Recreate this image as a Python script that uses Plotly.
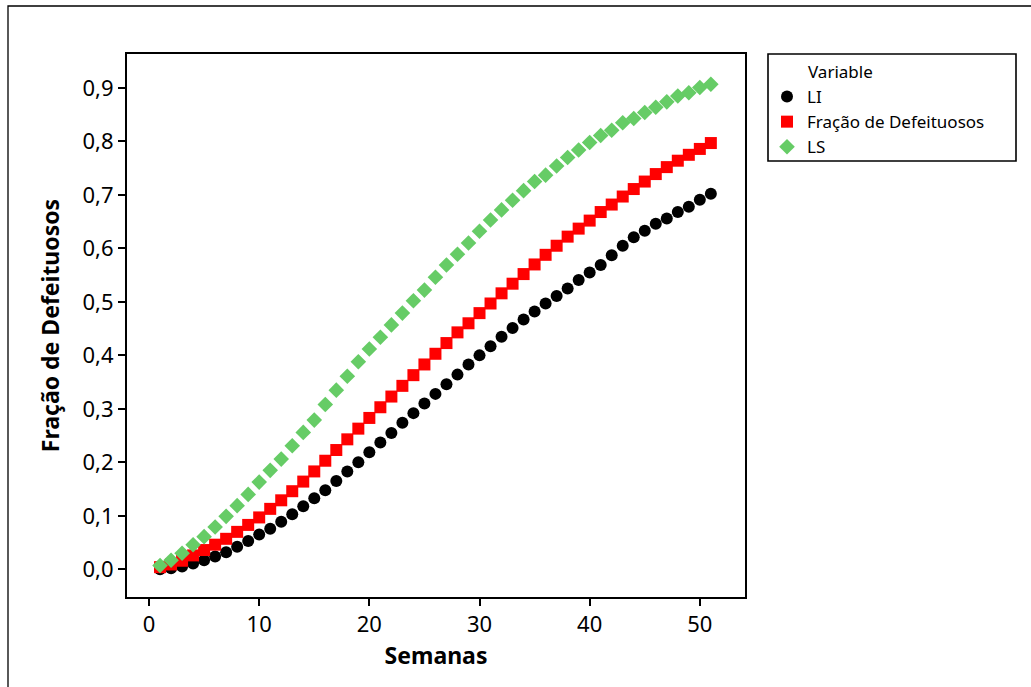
import plotly.graph_objects as go

semanas = list(range(1, 52))

li = [0.000, 0.002, 0.005, 0.011, 0.017, 0.024, 0.032, 0.042, 0.053, 0.065,
      0.076, 0.089, 0.103, 0.118, 0.133, 0.148, 0.165, 0.183, 0.200, 0.219,
      0.237, 0.255, 0.274, 0.292, 0.310, 0.328, 0.346, 0.364, 0.383, 0.400,
      0.417, 0.435, 0.451, 0.467, 0.482, 0.497, 0.511, 0.525, 0.541, 0.555,
      0.569, 0.587, 0.605, 0.621, 0.633, 0.646, 0.656, 0.668, 0.678, 0.691,
      0.702]

fracao = [0.004, 0.009, 0.016, 0.026, 0.036, 0.046, 0.057, 0.070, 0.083, 0.097,
          0.113, 0.129, 0.146, 0.164, 0.183, 0.203, 0.223, 0.243, 0.263, 0.283,
          0.303, 0.323, 0.343, 0.363, 0.383, 0.403, 0.423, 0.443, 0.460, 0.479,
          0.497, 0.516, 0.534, 0.552, 0.570, 0.588, 0.605, 0.622, 0.637, 0.652,
          0.668, 0.682, 0.697, 0.711, 0.725, 0.739, 0.752, 0.764, 0.775, 0.786,
          0.797]

ls = [0.007, 0.017, 0.030, 0.046, 0.061, 0.079, 0.099, 0.119, 0.140, 0.163,
      0.185, 0.206, 0.231, 0.256, 0.279, 0.308, 0.335, 0.361, 0.388, 0.412,
      0.434, 0.457, 0.479, 0.502, 0.522, 0.546, 0.569, 0.589, 0.610, 0.632,
      0.653, 0.672, 0.690, 0.708, 0.725, 0.737, 0.754, 0.770, 0.784, 0.798,
      0.811, 0.821, 0.835, 0.843, 0.854, 0.864, 0.874, 0.885, 0.891, 0.901,
      0.907]

x_ticks = [0, 10, 20, 30, 40, 50]
y_ticks = [0.0, 0.1, 0.2, 0.3, 0.4, 0.5, 0.6, 0.7, 0.8, 0.9]

FONT = "Noto Sans"

fig = go.Figure()
fig.add_trace(go.Scatter(x=semanas, y=li, mode="markers", name="LI",
                         legendgroup="a",
                         marker=dict(symbol="circle", size=12, color="#000000")))
fig.add_trace(go.Scatter(x=semanas, y=fracao, mode="markers", name="Fração de Defeituosos",
                         legendgroup="b",
                         marker=dict(symbol="square", size=12, color="#FF0000")))
fig.add_trace(go.Scatter(x=semanas, y=ls, mode="markers", name="LS",
                         legendgroup="c",
                         marker=dict(symbol="diamond", size=12, color="#66CC66")))

W, H = 1031, 687
L, R, T, B = 127, 745, 54, 597
pw, ph = R - L, B - T

def px(xp):
    return (xp - L) / pw

def py(yp):
    return (B - yp) / ph

fig.update_layout(
    width=W, height=H,
    margin=dict(l=L, r=W - R, t=T, b=H - B, pad=0),
    paper_bgcolor="white", plot_bgcolor="white",
    separators=",.",
    font=dict(family=FONT, color="black"),
    showlegend=True,
    legend=dict(x=px(767), y=py(79), xanchor="left", yanchor="top",
                bgcolor="rgba(0,0,0,0)", borderwidth=0,
                font=dict(family=FONT, size=17, color="black"),
                tracegroupgap=0),
    xaxis=dict(range=[-2.0, 54.1], tickvals=x_ticks, ticks="outside", ticklen=7,
               tickwidth=1.5, tickcolor="black", showgrid=False, zeroline=False,
               showline=True, linecolor="black", linewidth=2, mirror=True,
               tickfont=dict(family=FONT, size=22, color="black"),
               title=dict(text="<b>Semanas</b>", standoff=10,
                          font=dict(family=FONT, size=23, color="black"))),
    yaxis=dict(range=[-0.0518, 0.9635], tickvals=y_ticks, tickformat=".1f",
               ticks="outside", ticklen=7, tickwidth=1.5, tickcolor="black",
               showgrid=False, zeroline=False, showline=True, linecolor="black",
               linewidth=2, mirror=True,
               tickfont=dict(family=FONT, size=22, color="black"),
               title=dict(text="<b>Fração de Defeituosos</b>", standoff=16,
                          font=dict(family=FONT, size=23, color="black"))),
    shapes=[
        dict(type="rect", xref="paper", yref="paper",
             x0=px(8), x1=px(1040), y0=py(700), y1=py(6),
             line=dict(color="black", width=1.3), fillcolor="rgba(0,0,0,0)", layer="below"),
        dict(type="rect", xref="paper", yref="paper",
             x0=px(768), x1=px(1016), y0=py(161), y1=py(54),
             line=dict(color="black", width=1.6), fillcolor="rgba(0,0,0,0)"),
    ],
    annotations=[
        dict(text="Variable", xref="paper", yref="paper", x=px(806), y=py(71),
             xanchor="left", yanchor="middle", showarrow=False,
             font=dict(family=FONT, size=17, color="black")),
    ],
)

fig.write_html("out.html", config={"displayModeBar": False},
               post_script="document.body.style.margin='0px';document.body.style.padding='0px';")
